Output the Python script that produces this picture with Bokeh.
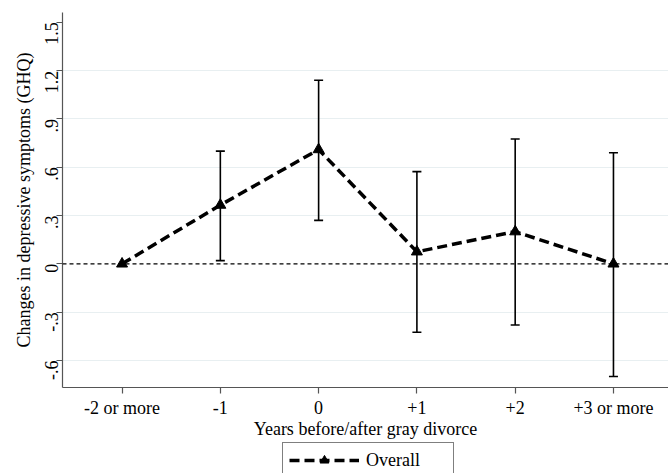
import math
from bokeh.plotting import figure
from bokeh.layouts import column
from bokeh.models import (ColumnDataSource, Range1d, FixedTicker, Whisker, TeeHead,
                          Legend, LegendItem, Span)
from bokeh.embed import file_html
from bokeh.resources import INLINE

# ---- data ----
periods = ["-2 or more", "-1", "0", "+1", "+2", "+3 or more"]
estimates = [0.0, 0.365, 0.71, 0.075, 0.20, 0.0]
ci_lower = [None, 0.02, 0.27, -0.425, -0.38, -0.70]
ci_upper = [None, 0.70, 1.14, 0.573, 0.775, 0.69]
y_ticks = [-0.6, -0.3, 0, 0.3, 0.6, 0.9, 1.2, 1.5]
y_tick_labels = ["-.6", "-.3", "0", ".3", ".6", ".9", "1.2", "1.5"]
grid_values = [-0.6, -0.3, 0.3, 0.6, 0.9, 1.2]
legend_label = "Overall"
x_title = "Years before/after gray divorce"
y_title = "Changes in depressive symptoms (GHQ)"

FONT = "Liberation Serif"
AXIS_COLOR = "#555555"
LINE_STYLE = dict(line_color="black", line_width=3.5, line_dash="10 5")
MARK_STYLE = dict(marker="triangle", size=11, fill_color="black", line_color="black")

xpos = list(range(1, len(periods) + 1))
src = ColumnDataSource(dict(x=xpos, y=estimates))
ci_idx = [i for i in range(len(periods)) if ci_lower[i] is not None]
src_ci = ColumnDataSource(dict(
    x=[xpos[i] for i in ci_idx],
    lower=[ci_lower[i] for i in ci_idx],
    upper=[ci_upper[i] for i in ci_idx],
))

MAIN_H = 441
p = figure(width=668, height=MAIN_H, output_backend="svg", toolbar_location=None,
           x_range=Range1d(0.394, 6.56), y_range=Range1d(-0.768, 1.561),
           min_border_left=62, min_border_right=0, min_border_top=12,
           min_border_bottom=54)
p.outline_line_color = None
p.background_fill_color = "white"
p.border_fill_color = "white"

p.xgrid.visible = False
p.ygrid.ticker = FixedTicker(ticks=grid_values)
p.ygrid.grid_line_color = "#e8eff1"
p.ygrid.grid_line_width = 1.2

p.add_layout(Span(location=0, dimension="width", line_color="black",
                  line_dash="4 3", line_width=1.2))

whisk = Whisker(source=src_ci, base="x", upper="upper", lower="lower",
                line_color="black", line_width=1.6,
                upper_head=TeeHead(size=9, line_width=1.6, line_color="black"),
                lower_head=TeeHead(size=9, line_width=1.6, line_color="black"))
p.add_layout(whisk)

p.line("x", "y", source=src, **LINE_STYLE)
p.scatter("x", "y", source=src, **MARK_STYLE)

# axes
for ax in (p.xaxis[0], p.yaxis[0]):
    ax.axis_line_color = AXIS_COLOR
    ax.axis_line_width = 1.2
    ax.major_tick_line_color = AXIS_COLOR
    ax.major_tick_line_width = 1.2
    ax.minor_tick_line_color = None
    ax.major_tick_in = 0
    ax.major_tick_out = 6
    ax.major_label_text_font = FONT
    ax.major_label_text_font_size = "18px"
    ax.major_label_text_color = "black"
    ax.axis_label_text_font = FONT
    ax.axis_label_text_font_size = "18px"
    ax.axis_label_text_font_style = "normal"
    ax.axis_label_text_color = "black"

p.xaxis.ticker = FixedTicker(ticks=xpos)
p.xaxis.major_label_overrides = {x: lab for x, lab in zip(xpos, periods)}
p.xaxis.axis_label = x_title
p.xaxis.major_label_standoff = 4
p.xaxis.axis_label_standoff = -2

p.yaxis.ticker = FixedTicker(ticks=y_ticks)
p.yaxis.major_label_overrides = {v: lab for v, lab in zip(y_ticks, y_tick_labels)}
p.yaxis.major_label_orientation = math.pi / 2
p.yaxis.axis_label = y_title
p.yaxis.major_label_standoff = 5
p.yaxis.axis_label_standoff = 2

# legend strip: a second figure whose view range excludes the data,
# so only the legend (referencing real renderers) is visible
lf = figure(width=668, height=473 - MAIN_H, output_backend="svg", toolbar_location=None,
            x_range=Range1d(-20, -19), y_range=Range1d(-20, -19),
            min_border_left=62, min_border_right=0, min_border_top=0,
            min_border_bottom=0)
lf.axis.visible = False
lf.grid.visible = False
lf.outline_line_color = None
lf.background_fill_color = "white"
lf.border_fill_color = "white"
lr = lf.line("x", "y", source=src, **LINE_STYLE)
ls = lf.scatter("x", "y", source=src, **MARK_STYLE)

legend = Legend(items=[LegendItem(label=legend_label, renderers=[lr, ls])],
                location=(220, -5), orientation="horizontal",
                border_line_color="black", border_line_width=1,
                background_fill_color="white", background_fill_alpha=1,
                padding=6, glyph_width=70, glyph_height=22, label_standoff=7,
                label_width=81, label_text_font=FONT, label_text_font_size="18px",
                label_text_color="black", margin=0, spacing=0)
lf.add_layout(legend)

layout = column(p, lf, spacing=0)
open("out.html", "w").write(file_html(layout, INLINE))
